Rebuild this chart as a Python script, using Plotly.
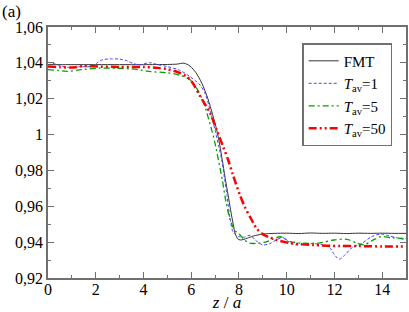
import plotly.graph_objects as go

# ---- data ----
fmt_z = [0, 0.5, 1, 2, 3, 4, 5, 5.4, 5.7, 5.95, 6.2, 6.45, 6.7, 6.9, 7.07, 7.2, 7.3, 7.42, 7.55,
         7.65, 7.76, 7.85, 7.95, 8.05, 8.2, 8.35, 8.6, 9.0, 9.5, 10, 10.5, 11, 11.5, 12, 12.5,
         13, 13.5, 14, 14.5, 15]
fmt_v = [1.0390, 1.0390, 1.0390, 1.0390, 1.0390, 1.0390, 1.0391, 1.0393, 1.0398, 1.0382, 1.0345,
         1.0285, 1.0200, 1.0110, 1.0025, 0.9940, 0.9860, 0.9760, 0.9660, 0.9580, 0.9500, 0.9445,
         0.9418, 0.9412, 0.9415, 0.9422, 0.9434, 0.9445, 0.9449, 0.9450, 0.9448, 0.9451, 0.9449,
         0.9450, 0.9448, 0.9450, 0.9449, 0.9450, 0.9449, 0.9449]

t1_z = [0, 0.2, 0.5, 0.8, 1.2, 1.6, 1.9, 2.1, 2.3, 2.6, 3.0, 3.3, 3.6, 3.85, 4.25, 4.6, 5.0, 5.5,
        5.95, 6.37, 6.6, 6.8, 7.0, 7.15, 7.28, 7.4, 7.5, 7.63, 7.76, 7.97, 8.2, 8.47, 8.7, 9.0,
        9.3, 9.6, 9.85, 10.1, 10.35, 10.7, 11.1, 11.5, 11.8, 12.0, 12.2, 12.45, 12.7, 13.15,
        13.55, 13.95, 14.3, 14.6, 15]
t1_v = [1.0403, 1.0398, 1.0385, 1.0375, 1.0377, 1.0379, 1.0380, 1.0405, 1.0418, 1.0422, 1.0421,
        1.0412, 1.0395, 1.0389, 1.0401, 1.0390, 1.0379, 1.0360, 1.0323, 1.0276, 1.0225, 1.0130,
        1.0025, 0.9935, 0.9858, 0.9750, 0.9660, 0.9530, 0.9455, 0.9432, 0.9427, 0.9438, 0.9410,
        0.9385, 0.9392, 0.9415, 0.9425, 0.9400, 0.9385, 0.9388, 0.9392, 0.9385, 0.9370, 0.9330,
        0.9305, 0.9330, 0.9365, 0.9393, 0.9430, 0.9445, 0.9435, 0.9425, 0.9420]

t5_z = [0, 0.4, 0.8, 1.4, 2.1, 2.9, 3.5, 3.9, 4.3, 5.0, 5.5, 5.95, 6.2, 6.5, 6.86, 7.0, 7.14, 7.3,
        7.45, 7.6, 7.75, 7.9, 8.05, 8.25, 8.45, 8.8, 9.17, 9.45, 9.73, 10.15, 10.7, 11.4, 11.97,
        12.53, 12.95, 13.25, 13.6, 13.93, 14.4, 14.77, 15]
t5_v = [1.0362, 1.0358, 1.0352, 1.0362, 1.0370, 1.0370, 1.0366, 1.0360, 1.0351, 1.0345, 1.0332,
        1.0306, 1.0265, 1.0185, 1.0025, 0.9950, 0.9858, 0.9750, 0.9630, 0.9540, 0.9485, 0.9455,
        0.9440, 0.9410, 0.9394, 0.9394, 0.9403, 0.9418, 0.9430, 0.9403, 0.9394, 0.9396, 0.9412,
        0.9416, 0.9394, 0.9385, 0.9410, 0.9430, 0.9425, 0.9421, 0.9410]

t50_z = [0, 0.5, 1.0, 1.5, 2.2, 3.0, 4.0, 4.6, 5.0, 5.5, 5.8, 6.05, 6.37, 6.79, 7.07, 7.34, 7.55,
         7.76, 8.05, 8.25, 8.47, 8.75, 9.03, 9.3, 9.59, 10.15, 11.1, 12.25, 13, 14, 15]
t50_v = [1.0380, 1.0376, 1.0374, 1.0382, 1.0379, 1.0377, 1.0377, 1.0372, 1.0365, 1.0345, 1.0325,
         1.0290, 1.0215, 1.0120, 1.0025, 0.9932, 0.9858, 0.9770, 0.9660, 0.9595, 0.9540, 0.9475,
         0.9442, 0.9425, 0.9412, 0.9394, 0.9384, 0.9378, 0.9378, 0.9376, 0.9376]

y_tickvals = [0.92, 0.94, 0.96, 0.98, 1.0, 1.02, 1.04, 1.06]
y_ticktext = ["0,92", "0,94", "0,96", "0,98", "1", "1,02", "1,04", "1,06"]
x_tickvals = [0, 2, 4, 6, 8, 10, 12, 14]
x_ticktext = ["0", "2", "4", "6", "8", "10", "12", "14"]

names = ["FMT", "<i>T</i><sub>av</sub>=1", "<i>T</i><sub>av</sub>=5", "<i>T</i><sub>av</sub>=50"]

FONT = "Liberation Serif"
AX = "#707070"

fig = go.Figure()
fig.add_trace(go.Scatter(x=fmt_z, y=fmt_v, mode="lines", name=names[0],
                         line=dict(color="#333333", width=1, shape="spline", smoothing=0.8)))
fig.add_trace(go.Scatter(x=t1_z, y=t1_v, mode="lines", name=names[1],
                         line=dict(color="#4848ff", width=1, dash="3px,2px", shape="spline", smoothing=0.8)))
fig.add_trace(go.Scatter(x=t5_z, y=t5_v, mode="lines", name=names[2],
                         line=dict(color="#00a000", width=1.3, dash="6px,3px,2px,3px", shape="spline", smoothing=0.8)))
fig.add_trace(go.Scatter(x=t50_z, y=t50_v, mode="lines", name=names[3],
                         line=dict(color="#ff0000", width=2.5, dash="8px,3px,2px,3px,2px,3px", shape="spline", smoothing=0.8)))

axis_common = dict(showline=True, linecolor=AX, linewidth=1.5, mirror="ticks",
                   ticks="inside", tickcolor=AX, tickwidth=1.2, ticklen=6,
                   showgrid=False, zeroline=False, automargin=False,
                   tickfont=dict(family=FONT, size=16, color="black"))

fig.update_xaxes(range=[0, 15], tickvals=x_tickvals, ticktext=x_ticktext,
                 minor=dict(ticks="inside", ticklen=3, dtick=1, tick0=0, tickcolor=AX, tickwidth=1.2, showgrid=False),
                 title=dict(text="<i>z</i> / <i>a</i>", font=dict(family=FONT, size=17, color="black"), standoff=5),
                 ticklabelstandoff=-4,
                 **axis_common)
fig.update_yaxes(range=[0.92, 1.06], tickvals=y_tickvals, ticktext=y_ticktext,
                 minor=dict(ticks="inside", ticklen=3, dtick=0.01, tick0=0.92, tickcolor=AX, tickwidth=1.2, showgrid=False),
                 **axis_common)

fig.add_annotation(text="(a)", xref="paper", yref="paper", x=-0.134, y=1.06,
                   xanchor="left", yanchor="middle", showarrow=False,
                   font=dict(family=FONT, size=17, color="black"))

fig.update_layout(
    width=409, height=312,
    margin=dict(l=48, r=3, t=27, b=34),
    paper_bgcolor="white", plot_bgcolor="white",
    font=dict(family=FONT, size=16, color="black"),
    showlegend=True,
    legend=dict(x=0.71, y=0.936, xanchor="left", yanchor="top",
                bgcolor="white", bordercolor=AX, borderwidth=1.5,
                font=dict(family=FONT, size=15, color="black"),
                tracegroupgap=0, itemwidth=30),
)

fig.write_html("out.html", config={"displayModeBar": False},
               post_script="document.body.style.margin='0';")
